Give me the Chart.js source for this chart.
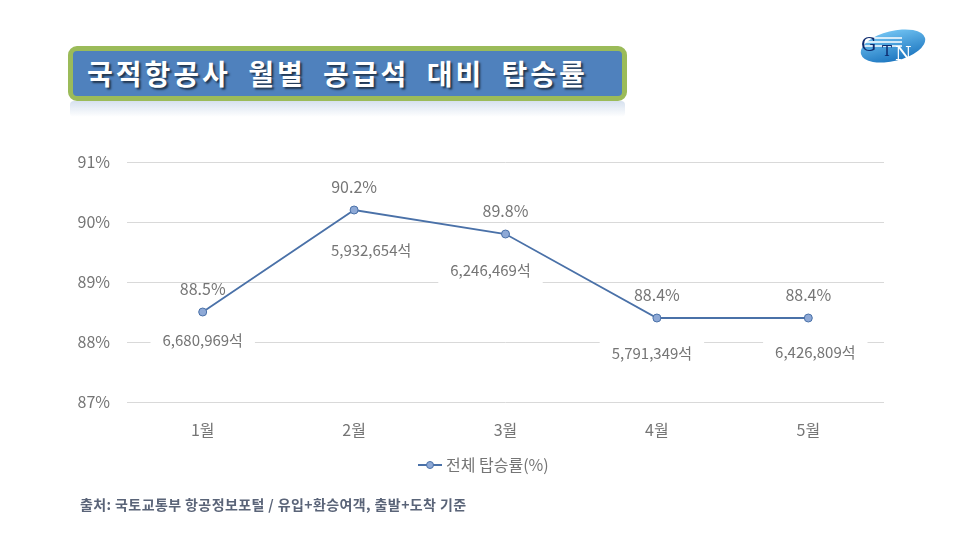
<!DOCTYPE html>
<html><head><meta charset="utf-8">
<script src="https://cdn.jsdelivr.net/npm/chart.js@4/dist/chart.umd.min.js"></script>
<style>
html,body{margin:0;padding:0;background:#fff;width:960px;height:540px;overflow:hidden;font-family:"Noto Sans CJK KR","Noto Sans",sans-serif;}
#wrap{position:absolute;left:0;top:0;width:960px;height:540px;}
#title{position:absolute;left:68px;top:46px;width:535px;height:45px;border:5px solid #9BBB59;border-radius:9px;background:#4F81BD;color:#fff;font-weight:bold;font-size:28px;line-height:45px;padding-left:14px;box-sizing:content-box;text-shadow:2px 2px 2px rgba(0,0,0,0.6);letter-spacing:3px;word-spacing:8px;white-space:nowrap;}
#refl{position:absolute;left:70px;top:101px;width:555px;height:16px;background:linear-gradient(to bottom,rgba(180,200,225,0.55),rgba(255,255,255,0));border-radius:4px;}
#src{position:absolute;left:80px;top:494px;font-size:14px;font-weight:bold;color:#5a6478;letter-spacing:0.4px;white-space:nowrap;}
#logo{position:absolute;left:856px;top:25px;}
</style></head><body>
<div id="wrap"><canvas id="c" width="960" height="540"></canvas></div>
<div id="refl"></div>
<div id="title">국적항공사 월별 공급석 대비 탑승률</div>
<svg id="logo" width="74" height="42" viewBox="0 0 74 42">
<defs><linearGradient id="lg" x1="0" y1="0" x2="0" y2="1"><stop offset="0" stop-color="#6EC0F0"/><stop offset="1" stop-color="#1F78C1"/></linearGradient></defs>
<ellipse cx="37" cy="21" rx="33" ry="15" fill="url(#lg)" transform="rotate(-14 37 21)"/>
<g stroke="#fff" stroke-width="1.4"><line x1="6" y1="13" x2="46" y2="13"/><line x1="5" y1="17" x2="46" y2="17"/><line x1="6" y1="21" x2="46" y2="21"/></g>
<text x="5" y="26" font-family="DejaVu Serif" font-size="19" fill="#0d2a6e">G</text>
<text x="26" y="31" font-family="DejaVu Serif" font-size="15" fill="#0d2a6e">T</text>
<text x="39" y="35" font-family="DejaVu Serif" font-size="19" fill="#ffffff">N</text>
</svg>
<div id="src">출처: 국토교통부 항공정보포털 / 유입+환승여객, 출발+도착 기준</div>
<script>
const categories = ["1월","2월","3월","4월","5월"];
const loadFactor = [88.5, 90.2, 89.8, 88.4, 88.4];
const seats = ["6,680,969석","5,932,654석","6,246,469석","5,791,349석","6,426,809석"];
const seriesName = "전체 탑승률(%)";
const yTicks = [87,88,89,90,91];
const seatOffsets = [[0,28],[17,40],[-15,36],[-5,35],[7,34]];

const FONT = '"Noto Sans CJK KR","Noto Sans",sans-serif';
const LINE = '#4A71A8', PT = '#8EA9D6';

const labelPlugin = {
  id:'labels',
  beforeDatasetsDraw(chart){
    const ctx = chart.ctx;
    const meta = chart.getDatasetMeta(0);
    ctx.save();
    ctx.font = '15px ' + FONT;
    meta.data.forEach((p,i)=>{
      const sx = p.x + seatOffsets[i][0], sy = p.y + seatOffsets[i][1];
      const w = ctx.measureText(seats[i]).width;
      ctx.fillStyle = '#fff';
      ctx.fillRect(sx - w/2 - 12, sy - 12, w + 24, 26);
    });
    ctx.restore();
  },
  afterDatasetsDraw(chart){
    const ctx = chart.ctx;
    const meta = chart.getDatasetMeta(0);
    ctx.save();
    ctx.textAlign = 'center'; ctx.textBaseline = 'middle';
    meta.data.forEach((p,i)=>{
      ctx.font = '16px ' + FONT;
      ctx.fillStyle = '#757575';
      ctx.fillText(loadFactor[i].toFixed(1)+'%', p.x, p.y-23);
      const sx = p.x + seatOffsets[i][0], sy = p.y + seatOffsets[i][1];
      ctx.font = '15px ' + FONT;
      ctx.fillText(seats[i], sx, sy);
    });
    // legend
    const lx = 418, ly = 465;
    ctx.strokeStyle = LINE; ctx.lineWidth = 2;
    ctx.beginPath(); ctx.moveTo(lx, ly); ctx.lineTo(lx+24, ly); ctx.stroke();
    ctx.beginPath(); ctx.arc(lx+12, ly, 3.5, 0, Math.PI*2);
    ctx.fillStyle = PT; ctx.fill(); ctx.lineWidth = 1; ctx.stroke();
    ctx.font = '16px ' + FONT;
    ctx.fillStyle = '#757575'; ctx.textAlign='left';
    ctx.fillText(seriesName, lx+28, ly);
    ctx.restore();
  }
};

new Chart(document.getElementById('c'), {
  type:'line',
  data:{labels:categories, datasets:[{label:seriesName, data:loadFactor, borderColor:LINE, borderWidth:1.8, backgroundColor:PT, pointBackgroundColor:PT, pointBorderColor:LINE, pointBorderWidth:1, pointRadius:4, tension:0}]},
  options:{
    responsive:false, animation:false,
    layout:{padding:{left:0,right:76,top:162,bottom:0}},
    plugins:{legend:{display:false}, tooltip:{enabled:false}},
    scales:{
      x:{offset:true, grid:{display:false, offset:true}, border:{display:false},
         ticks:{color:'#757575', font:{family:FONT,size:16}, padding:10},
         afterFit(s){ s.height = 138; }},
      y:{min:87, max:91, afterBuildTicks(s){ s.ticks = yTicks.map(v=>({value:v})); },
         grid:{color:'#D9D9D9', drawTicks:false, lineWidth:1}, border:{display:false},
         ticks:{color:'#757575', font:{family:FONT,size:16}, padding:17, callback:v=>v+'%'},
         afterFit(s){ s.width = 127; }}
    }
  },
  plugins:[labelPlugin]
});
</script>
</body></html>
